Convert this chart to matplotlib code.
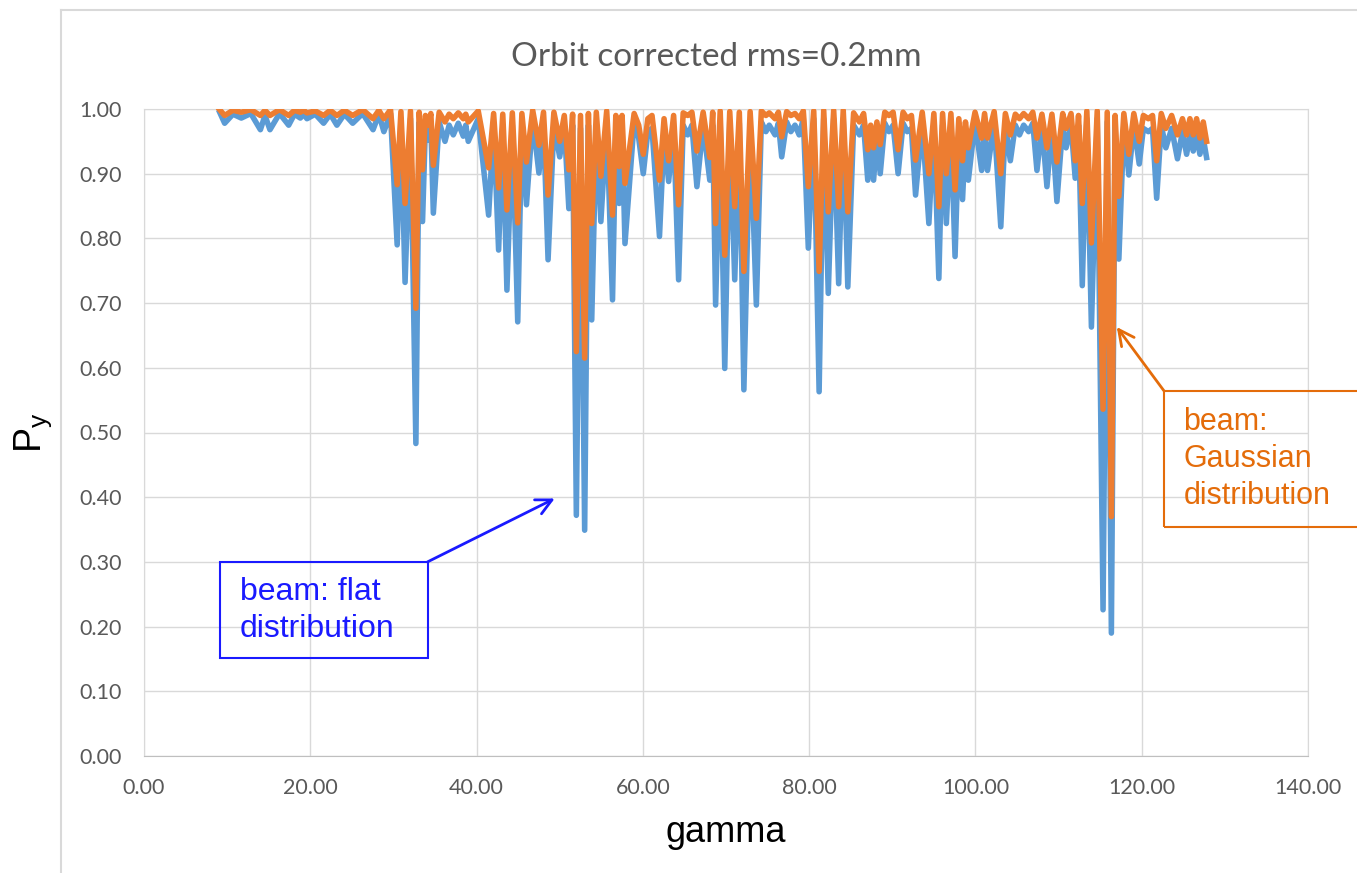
import matplotlib
matplotlib.use("Agg")
import matplotlib.pyplot as plt
from matplotlib.patches import Rectangle
from matplotlib.lines import Line2D
from matplotlib.ticker import FormatStrFormatter

plt.rcParams['mathtext.fontset'] = 'custom'
plt.rcParams['mathtext.rm'] = 'Liberation Sans'

# polyline vertices: gamma, P_y (flat beam), P_y (Gaussian beam)
gamma = [
    # 9 - 30
    9.1, 9.7, 10.7, 11.7, 12.85, 14.0, 14.55, 15.15, 16.3, 17.4, 18.1, 18.8, 19.2,
    19.6, 20.6, 21.6, 22.4, 23.2, 24.1, 25.1, 26.3, 27.55, 28.25, 28.85, 29.65,
    # 30 - 40
    30.45, 30.9, 31.4, 32.05, 32.7, 33.1, 33.5, 33.85, 34.2, 34.5, 34.8, 35.5, 36.2,
    36.7, 37.2, 37.8, 38.4, 38.7, 39.0, 40.2,
    # 40 - 58
    41.45, 42.05, 42.65, 43.15, 43.65, 44.3, 44.95, 45.45, 46.0, 46.75, 47.5, 48.05,
    48.6, 49.3, 50.0, 50.55, 51.1, 51.55, 52.0, 52.5, 53.0, 53.45, 53.85, 54.4, 54.95,
    55.65, 56.35, 56.75, 57.15, 57.5, 57.85,
    # 58 - 75
    58.95, 59.5, 60.05, 60.6, 61.1, 62.0, 62.55, 63.1, 63.7, 64.3, 64.85, 65.4, 65.9,
    66.5, 67.25, 68.05, 68.4, 68.75, 69.3, 69.85, 70.45, 71.05, 71.6, 72.15, 72.9,
    73.65, 74.25,
    # 75 - 86
    74.8, 75.2, 75.9, 76.3, 76.7, 77.3, 77.8, 78.3, 78.8, 79.3, 79.9, 80.55, 81.2,
    81.75, 82.3, 82.95, 83.55, 84.1, 84.65, 85.35,
    # 86 - 100
    86.05, 86.55, 87.05, 87.4, 87.75, 88.15, 88.55, 89.1, 89.6, 90.1, 90.7, 91.3, 91.8,
    92.3, 92.8, 93.6, 94.4, 95.0, 95.6, 96.05, 96.5, 97.05, 97.55, 98.0, 98.45, 98.8,
    99.15,
    # 100 - 112
    99.95, 100.75, 101.1, 101.45, 102.25, 103.05, 103.6, 104.2, 104.8, 105.3, 105.8,
    106.4, 106.9, 107.4, 108.0, 108.6, 109.2, 109.8, 110.5, 110.9, 111.5, 112.0, 112.4,
    # 112 - 128
    112.85, 113.4, 113.95, 114.65, 115.35, 115.85, 116.35, 116.8, 117.25, 117.85,
    118.45, 119.05, 119.7, 120.2, 120.8, 121.3, 121.8, 122.35, 122.9, 123.6, 124.3,
    124.9, 125.4, 125.8, 126.2, 126.6, 127.0, 127.4, 127.8,
]

py_flat = [
    0.995, 0.978, 0.992, 0.986, 0.993, 0.968, 0.990, 0.968, 0.993, 0.975, 0.992, 0.986, 0.992,
    0.985, 0.992, 0.978, 0.992, 0.975, 0.992, 0.978, 0.993, 0.968, 0.992, 0.965, 0.993,
    0.790, 0.985, 0.732, 0.985, 0.483, 0.980, 0.826, 0.975, 0.952, 0.978, 0.839, 0.980, 0.950,
    0.975, 0.960, 0.978, 0.958, 0.975, 0.950, 0.985,
    0.836, 0.975, 0.782, 0.970, 0.720, 0.975, 0.671, 0.975, 0.852, 0.985, 0.901, 0.975,
    0.767, 0.975, 0.926, 0.975, 0.846, 0.975, 0.372, 0.970, 0.349, 0.975, 0.674, 0.975, 0.826,
    0.980, 0.705, 0.970, 0.854, 0.970, 0.792,
    0.980, 0.955, 0.900, 0.965, 0.970, 0.803, 0.960, 0.888, 0.970, 0.736, 0.975, 0.960, 0.975,
    0.880, 0.975, 0.890, 0.975, 0.697, 0.980, 0.599, 0.980, 0.736, 0.978, 0.566, 0.980,
    0.697, 0.980,
    0.965, 0.975, 0.960, 0.978, 0.926, 0.980, 0.965, 0.975, 0.960, 0.985, 0.785, 0.985, 0.563,
    0.985, 0.715, 0.985, 0.730, 0.985, 0.725, 0.975,
    0.960, 0.975, 0.890, 0.950, 0.890, 0.960, 0.900, 0.978, 0.965, 0.975, 0.900, 0.978, 0.965,
    0.970, 0.867, 0.978, 0.823, 0.975, 0.738, 0.975, 0.823, 0.975, 0.772, 0.965, 0.860, 0.960,
    0.890,
    0.980, 0.905, 0.975, 0.905, 0.980, 0.818, 0.975, 0.920, 0.975, 0.960, 0.975,
    0.965, 0.978, 0.905, 0.975, 0.880, 0.975, 0.857, 0.975, 0.940, 0.975, 0.893, 0.975,
    0.727, 0.985, 0.663, 0.985, 0.226, 0.980, 0.190, 0.975, 0.768, 0.975,
    0.898, 0.975, 0.915, 0.970, 0.965, 0.970, 0.862, 0.975, 0.940, 0.970, 0.923,
    0.965, 0.930, 0.960, 0.935, 0.960, 0.930, 0.955, 0.925,
]

py_gauss = [
    0.999, 0.990, 0.998, 0.995, 0.999, 0.990, 0.998, 0.990, 0.999, 0.990, 0.998, 0.995, 0.998,
    0.994, 0.997, 0.990, 0.998, 0.990, 0.998, 0.990, 0.999, 0.985, 0.998, 0.985, 0.999,
    0.883, 0.996, 0.854, 0.997, 0.692, 0.995, 0.906, 0.990, 0.975, 0.993, 0.913, 0.995, 0.980,
    0.992, 0.985, 0.994, 0.985, 0.992, 0.980, 0.997,
    0.909, 0.993, 0.878, 0.992, 0.844, 0.994, 0.824, 0.993, 0.918, 0.998, 0.944, 0.995,
    0.867, 0.995, 0.950, 0.990, 0.906, 0.992, 0.625, 0.990, 0.615, 0.993, 0.823, 0.995, 0.896,
    0.997, 0.836, 0.990, 0.911, 0.990, 0.885,
    0.993, 0.975, 0.930, 0.985, 0.990, 0.890, 0.985, 0.920, 0.990, 0.852, 0.994, 0.990, 0.995,
    0.935, 0.995, 0.925, 0.995, 0.823, 0.997, 0.774, 0.996, 0.849, 0.995, 0.749, 0.996,
    0.831, 0.997,
    0.990, 0.994, 0.985, 0.995, 0.957, 0.996, 0.990, 0.993, 0.985, 0.997, 0.880, 0.997, 0.749,
    0.998, 0.841, 0.998, 0.849, 0.998, 0.841, 0.994,
    0.980, 0.993, 0.937, 0.975, 0.940, 0.980, 0.945, 0.995, 0.990, 0.995, 0.937, 0.995, 0.985,
    0.990, 0.921, 0.995, 0.900, 0.993, 0.849, 0.993, 0.900, 0.993, 0.875, 0.985, 0.920, 0.980,
    0.940,
    0.995, 0.955, 0.993, 0.955, 0.996, 0.900, 0.993, 0.960, 0.992, 0.985, 0.993,
    0.985, 0.995, 0.955, 0.992, 0.940, 0.992, 0.918, 0.993, 0.970, 0.993, 0.920, 0.990,
    0.854, 0.997, 0.793, 0.997, 0.536, 0.995, 0.370, 0.990, 0.865, 0.993,
    0.930, 0.993, 0.950, 0.990, 0.985, 0.990, 0.920, 0.993, 0.970, 0.990, 0.960,
    0.985, 0.960, 0.985, 0.960, 0.985, 0.955, 0.980, 0.950,
]

x_ticks = [0, 20, 40, 60, 80, 100, 120, 140]
y_ticks = [0.0, 0.1, 0.2, 0.3, 0.4, 0.5, 0.6, 0.7, 0.8, 0.9, 1.0]

blue = '#5B9BD5'
orange = '#ED7D31'
grey = '#595959'

fig = plt.figure(figsize=(13.57, 8.73), dpi=100)
ax = fig.add_axes([144/1357, 117/873, 1164/1357, 647/873])

ax.plot(gamma, py_flat, color=blue, lw=4, solid_joinstyle='round', zorder=3)
ax.plot(gamma, py_gauss, color=orange, lw=4, solid_joinstyle='round', zorder=4)

ax.set_xlim(0, 140)
ax.set_ylim(0, 1)
ax.set_xticks(x_ticks)
ax.set_yticks(y_ticks)
ax.xaxis.set_major_formatter(FormatStrFormatter('%.2f'))
ax.yaxis.set_major_formatter(FormatStrFormatter('%.2f'))
ax.tick_params(length=0, labelsize=15.5, labelcolor=grey)
ax.tick_params(axis='y', pad=16)
ax.tick_params(axis='x', pad=16)
for lab in ax.get_xticklabels() + ax.get_yticklabels():
    lab.set_family('Lato')
ax.grid(True, color='#d9d9d9', lw=1.0, zorder=0)
ax.set_axisbelow(True)
for side in ['top', 'right', 'left']:
    ax.spines[side].set_color('#d9d9d9')
ax.spines['bottom'].set_color('#bfbfbf')

ax.set_xlabel('gamma', fontsize=26, family='Liberation Sans', labelpad=12)
ax.set_ylabel(r'$\mathrm{P_y}$', fontsize=27, labelpad=18)

fig.text(716/1357, 1 - 57/873, 'Orbit corrected rms=0.2mm', ha='center', va='center',
         fontsize=24, family='Lato', color=grey)

# chart frame (left and top edges)
fig.add_artist(Line2D([61/1357, 61/1357], [0, 1 - 10/873], transform=fig.transFigure,
                      color='#d9d9d9', lw=1.5))
fig.add_artist(Line2D([61/1357, 1], [1 - 10/873, 1 - 10/873], transform=fig.transFigure,
                      color='#d9d9d9', lw=1.5))

# annotation: flat distribution
ax.add_patch(Rectangle((9.14, 0.151), 34.1 - 9.14, 0.300 - 0.151, fill=False,
                       edgecolor='#1a1aff', lw=1.5, zorder=6))
ax.text(11.5, 0.2255, 'beam: flat\ndistribution', color='#1a1aff', fontsize=23,
        family='Liberation Sans', va='center', ha='left', linespacing=1.3, zorder=7)
ax.annotate('', xy=(49.4, 0.398), xytext=(34.1, 0.300),
            arrowprops=dict(arrowstyle='->', color='#1a1aff', lw=2, mutation_scale=28,
                            shrinkA=0, shrinkB=0), zorder=7)

# annotation: Gaussian distribution
ax.add_patch(Rectangle((122.7, 0.354), 30, 0.564 - 0.354, fill=False,
                       edgecolor='#E46C0A', lw=1.5, zorder=6, clip_on=False))
ax.text(125.0, 0.459, 'beam:\nGaussian\ndistribution', color='#E46C0A', fontsize=22,
        family='Liberation Sans', va='center', ha='left', linespacing=1.32, zorder=7,
        clip_on=False)
ax.annotate('', xy=(117.0, 0.663), xytext=(122.7, 0.564),
            arrowprops=dict(arrowstyle='->', color='#E46C0A', lw=2, mutation_scale=28,
                            shrinkA=0, shrinkB=0), zorder=7, annotation_clip=False)

fig.savefig('out.png', dpi=100)
